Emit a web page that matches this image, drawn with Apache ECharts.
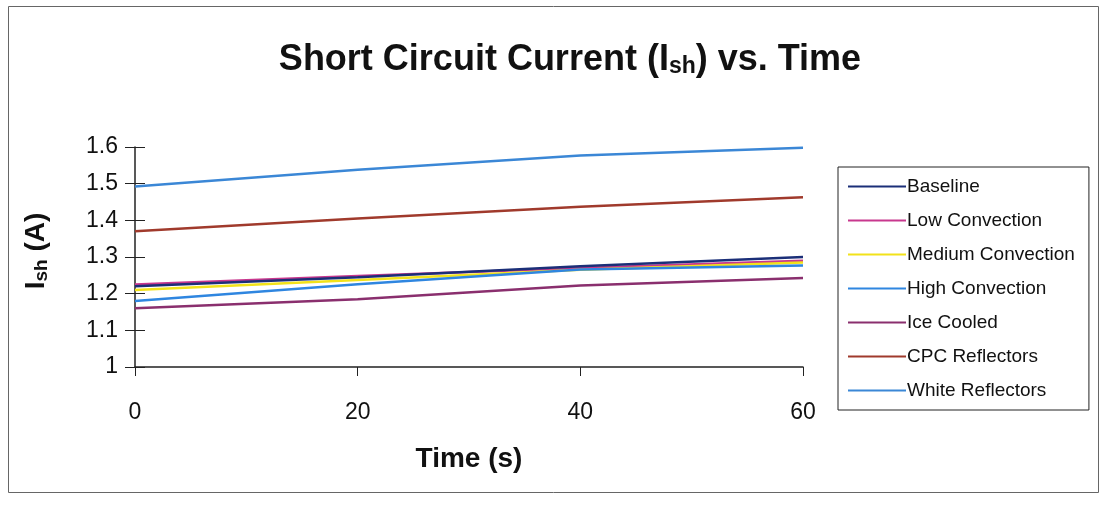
<!DOCTYPE html>
<html><head><meta charset="utf-8">
<script src="https://cdn.jsdelivr.net/npm/echarts@6/dist/echarts.min.js"></script>
<style>html,body{margin:0;padding:0;background:#fff}#c{width:1102px;height:510px}</style>
</head><body><div id="c"></div>
<script>
const times = [0, 20, 40, 60];
const xTicks = [0, 20, 40, 60];
const yTicks = [1, 1.1, 1.2, 1.3, 1.4, 1.5, 1.6];
const seriesNames = ['Baseline','Low Convection','Medium Convection','High Convection','Ice Cooled','CPC Reflectors','White Reflectors'];
const baseline = [1.22, 1.245, 1.275, 1.300];
const lowConvection = [1.225, 1.248, 1.270, 1.290];
const mediumConvection = [1.210, 1.237, 1.265, 1.285];
const highConvection = [1.180, 1.226, 1.266, 1.277];
const iceCooled = [1.160, 1.185, 1.222, 1.243];
const cpcReflectors = [1.370, 1.405, 1.437, 1.463];
const whiteReflectors = [1.492, 1.538, 1.577, 1.598];
const allValues = [baseline, lowConvection, mediumConvection, highConvection, iceCooled, cpcReflectors, whiteReflectors];
const colors = ['#1b2f78','#c8388e','#f2e21a','#2f86e0','#8a2f6e','#a03a2c','#3b87d6'];

const chart = echarts.init(document.getElementById('c'));
const font = 'Arial, "Liberation Sans", sans-serif';
chart.setOption({
  backgroundColor: '#fff',
  animation: false,
  title: {
    text: '{a|Short Circuit Current (I}{s|sh}{a|) vs. Time}',
    left: 565, top: 34, textAlign: 'center',
    textStyle: { rich: {
      a: { fontFamily: font, fontWeight: 'bold', fontSize: 36, color: '#111', verticalAlign: 'bottom' },
      s: { fontFamily: font, fontWeight: 'bold', fontSize: 23, color: '#111', padding: [16,0,0,0], verticalAlign: 'bottom' }
    }}
  },
  graphic: [{
    type: 'rect', left: 6, top: 4, shape: { width: 1090, height: 486 },
    style: { fill: 'none', stroke: '#666', lineWidth: 1 }, silent: true
  }, {
    type: 'text', x: 36, y: 251, rotation: Math.PI/2, z: 10,
    style: { rich: {
      a: { fontFamily: font, fontWeight: 'bold', fontSize: 28, fill: '#111' },
      s: { fontFamily: font, fontWeight: 'bold', fontSize: 19, fill: '#111', padding: [12,0,0,0] }
    }, text: '{a|I}{s|sh}{a| (A)}', align: 'center', verticalAlign: 'middle' }
  }],
  legend: {
    orient: 'vertical', left: 838, top: 167,
    data: seriesNames,
    icon: 'rect', itemWidth: 58, itemHeight: 2, itemGap: 15,
    padding: [10, 14, 10, 10],
    borderColor: '#222', borderWidth: 1,
    textStyle: { fontFamily: font, fontSize: 19, color: '#111', lineHeight: 19, padding: [0,0,0,-4] }
  },
  grid: { left: 135, right: 299, top: 147, bottom: 143 },
  xAxis: {
    type: 'value', min: 0, max: 60, interval: 20,
    axisLine: { lineStyle: { color: '#222', width: 1.5 } },
    axisTick: { show: true, length: 9, lineStyle: { color: '#222' } },
    axisLabel: { fontFamily: font, fontSize: 23, color: '#111', margin: 34 },
    splitLine: { show: false },
    name: 'Time (s)', nameLocation: 'middle', nameGap: 78,
    nameTextStyle: { fontFamily: font, fontWeight: 'bold', fontSize: 28, color: '#111' }
  },
  yAxis: [{
    type: 'value', min: 1, max: 1.6, interval: 0.1,
    axisLine: { show: true, lineStyle: { color: '#222', width: 1.5 } },
    axisTick: { show: true, length: 10, lineStyle: { color: '#222' } },
    axisLabel: { fontFamily: font, fontSize: 23, color: '#111', margin: 17,
      formatter: v => (Math.round(v*10)/10).toString() },
    splitLine: { show: false }
  }, {
    type: 'value', min: 1, max: 1.6, interval: 0.1, position: 'left',
    axisLine: { show: false },
    axisTick: { show: true, inside: true, length: 10, lineStyle: { color: '#222' } },
    axisLabel: { show: false }, splitLine: { show: false }
  }],
  series: seriesNames.map((n, i) => ({
    name: n, type: 'line', showSymbol: false, symbol: 'none',
    data: times.map((t, j) => [t, allValues[i][j]]),
    lineStyle: { color: colors[i], width: 2.5 },
    itemStyle: { color: colors[i] },
    z: i === 0 ? 5 : 2
  }))
});
</script></body></html>
